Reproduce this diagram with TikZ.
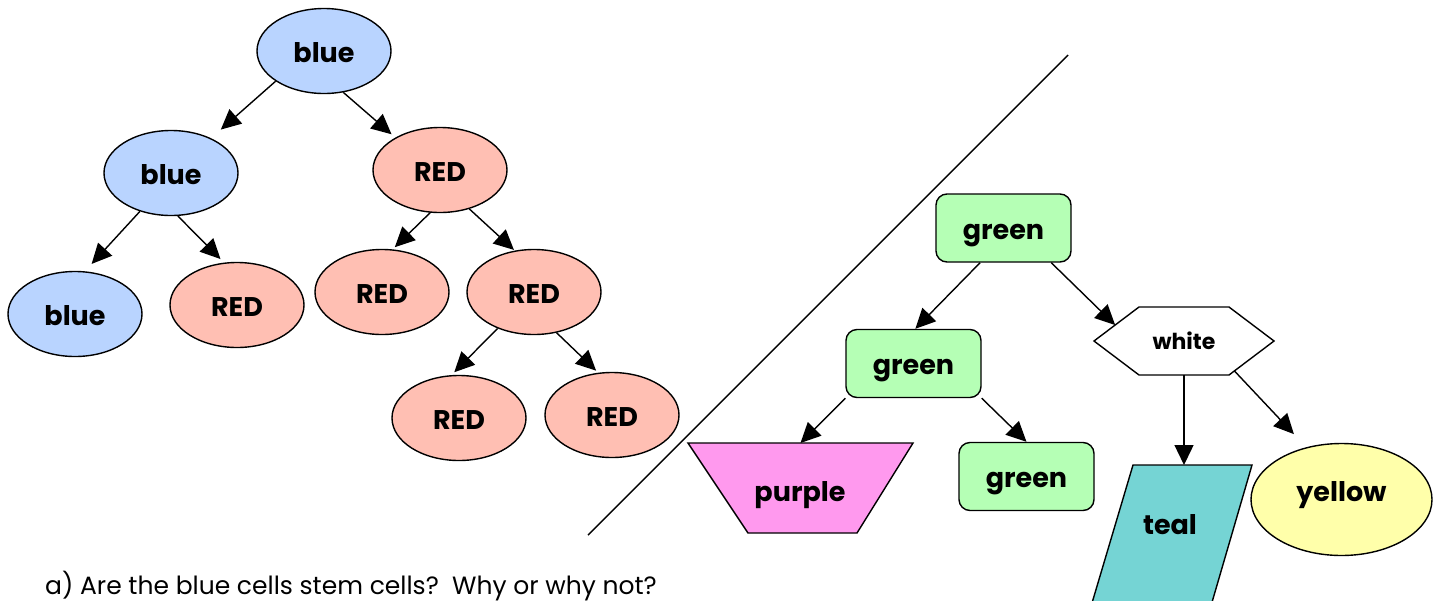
\documentclass[tikz,border=0pt]{standalone}
\usepackage{fontspec}
\setmainfont{Poppins}
\usetikzlibrary{shapes.geometric,arrows.meta,calc}
\definecolor{cblue}{HTML}{B9D4FF}
\definecolor{cred}{HTML}{FFBFB3}
\definecolor{cgreen}{HTML}{B5FFB5}
\definecolor{cpurple}{HTML}{FF99EE}
\definecolor{cteal}{HTML}{75D4D4}
\definecolor{cyellow}{HTML}{FFFFAA}
\begin{document}
\begin{tikzpicture}[x=1pt,y=-1pt,
  lbl/.style={font=\bfseries\fontsize{27}{30}\selectfont, text height=22pt, text depth=0pt},
  cell/.style={ellipse, draw, line width=1.4pt, minimum width=134pt, minimum height=85pt, inner sep=0pt, lbl},
  bcell/.style={cell, fill=cblue},
  rcell/.style={cell, fill=cred},
  gbox/.style={rectangle, rounded corners=11pt, draw, line width=1.4pt, fill=cgreen, minimum width=135pt, minimum height=68pt, inner sep=0pt, lbl},
  shp/.style={draw, line width=1.4pt},
  arr/.style={-{Triangle[length=20pt,width=19pt]}, line width=1.4pt},
  ]
\useasboundingbox (0,0) rectangle (1438,600);

% left tree
\node[bcell] (b0) at (324,51) {blue};
\node[bcell] (b1) at (171,173) {blue};
\node[rcell] (r1) at (440,170) {RED};
\node[bcell] (b2) at (75,314) {blue};
\node[rcell] (r2) at (237,305) {RED};
\node[rcell] (r3) at (382,292) {RED};
\node[rcell] (r4) at (534,292) {RED};
\node[rcell] (r5) at (459,418) {RED};
\node[rcell] (r6) at (612,415) {RED};

\draw[arr, shorten >=13pt] (b0.212) -- (b1.41);
\draw[arr, shorten >=5pt] (b0.295) -- (r1.144);
\draw[arr, shorten >=10pt] (b1.231) -- (b2.77);
\draw[arr, shorten >=5pt] (b1.279) -- (r2.107);
\draw[arr, shorten >=3pt] (r1.257) -- (r3.76);
\draw[arr, shorten >=1pt] (r1.307) -- (r4.115);
\draw[arr, shorten >=4pt] (r4.225) -- (r5.100);
\draw[arr, shorten >=3pt] (r4.299) -- (r6.108);

% divider
\coordinate (d1) at (588,535);
\coordinate (d2) at (1068,55);
\draw[line width=1.4pt] (d1) -- (d2);

% right tree
\node[gbox] (g0) at (1003.5,228) {green};
\node[gbox] (g1) at (913.5,363.5) {green};
\node[gbox] (g2) at (1026.5,476.5) {green};

% purple trapezoid
\coordinate (pa) at (688,443);
\coordinate (pb) at (913,443);
\coordinate (pc) at (857,533);
\coordinate (pd) at (748,533);
\draw[shp, fill=cpurple] (pa) -- (pb) -- (pc) -- (pd) -- cycle;
\node[lbl] (purple) at (800,490) {purple};

% white hexagon
\coordinate (hw) at (1094,341);
\coordinate (hnw) at (1139,307);
\coordinate (hne) at (1229,307);
\coordinate (he) at (1274,341);
\coordinate (hse) at (1229,375);
\coordinate (hsw) at (1139,375);
\draw[shp, fill=white] (hw) -- (hnw) -- (hne) -- (he) -- (hse) -- (hsw) -- cycle;
\node[font=\bfseries\fontsize{22}{25}\selectfont, text height=17pt, text depth=0pt, minimum width=180pt, minimum height=68pt, inner sep=0pt] (white) at (1184,341) {white};

% teal parallelogram
\coordinate (ta) at (1133,465);
\coordinate (tb) at (1252,465);
\coordinate (tc) at (1201,640);
\coordinate (td) at (1081,640);
\draw[shp, fill=cteal] (ta) -- (tb) -- (tc) -- (td) -- cycle;
\node[lbl] (teal) at (1170,523) {teal};
\coordinate (ttop) at (1184,465);

% yellow ellipse
\node[cell, fill=cyellow, minimum width=181pt, minimum height=112pt] (yellow) at (1341.5,499.5) {\raisebox{9pt}{yellow}};

\draw[arr] (g0.236) -- (g1.87);
\draw[arr] (g0.324) -- ($(hw)!0.47!(hnw)$);
\draw[arr] (g1.south west) -- ($(pa)!0.5!(pb)$);
\draw[arr] (g1.south east) -- (g2.north);
\draw[arr] (white.south) -- (ttop);
\draw[arr, shorten >=18pt] ($(he)!0.88!(hse)$) -- (yellow.124);

\node[anchor=base west, font=\fontsize{25}{28}\selectfont, inner sep=0pt] (q) at (45,594) {a) Are the blue cells stem cells?\ \ Why or why not?};
\end{tikzpicture}
\end{document}
